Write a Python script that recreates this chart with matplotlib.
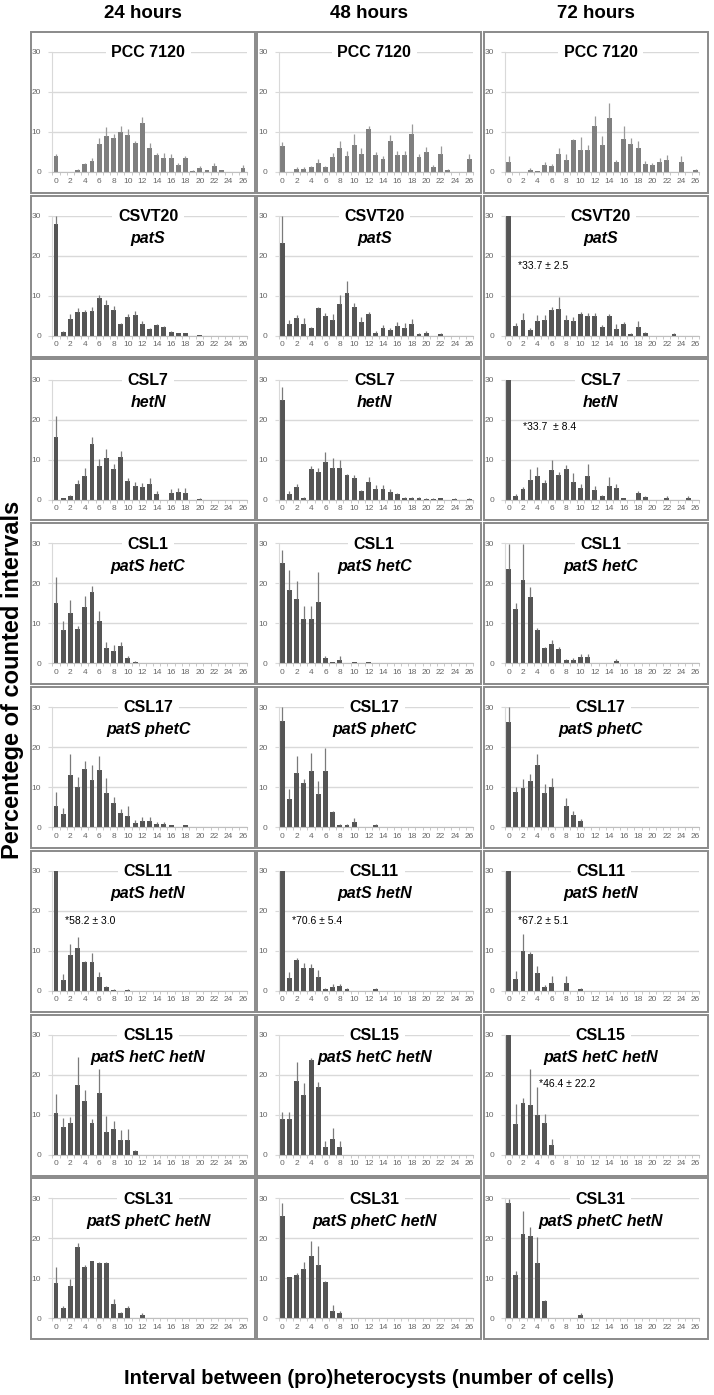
import numpy as np
import matplotlib
matplotlib.use('Agg')
import matplotlib.pyplot as plt
from matplotlib.patches import Rectangle

plt.rcParams['font.family'] = ['Liberation Sans', 'DejaVu Sans']

N = 27
intervals = np.arange(N)


def pad(v):
    # trailing intervals with no counts
    return list(v) + [0] * (N - len(v))


hours = ['24 hours', '48 hours', '72 hours']
strains = ['PCC 7120', 'CSVT20', 'CSL7', 'CSL1', 'CSL17', 'CSL11', 'CSL15', 'CSL31']
genotypes = ['', 'patS', 'hetN', 'patS hetC', 'patS phetC', 'patS hetN',
             'patS hetC hetN', 'patS phetC hetN']

# PCC 7120
pcc_24 = pad([4.0, 0.1, 0.1, 0.5, 2.0, 2.7, 7.0, 8.9, 8.6, 10.0, 9.3, 7.3, 12.3, 6.1, 4.2, 3.5, 3.5, 1.8, 3.5, 0.3, 1.0, 0.4, 1.5, 0.4, 0, 0, 0.9])
pcc_24_err = pad([0.5, 0, 0, 0.2, 0.3, 0.7, 1.5, 2.3, 1.0, 1.5, 1.5, 0.5, 1.4, 1.2, 0.5, 1.2, 1.0, 0.5, 0.4, 0.2, 0.5, 0.2, 0.8, 0.2, 0, 0, 0.8])
pcc_48 = pad([6.5, 0, 0.8, 0.8, 1.2, 2.2, 1.2, 3.8, 6.1, 4.1, 6.8, 4.5, 10.7, 4.2, 3.3, 7.7, 4.3, 4.3, 9.5, 3.8, 5.0, 1.3, 4.4, 0.5, 0.1, 0, 3.3])
pcc_48_err = pad([1.0, 0, 0.4, 0.4, 0.4, 1.0, 0.3, 0.9, 1.6, 1.2, 2.8, 1.5, 0.8, 0.9, 0.6, 1.5, 0.9, 0.9, 2.6, 0.6, 1.2, 0.5, 2.2, 0.3, 0, 0, 1.2])
pcc_72 = pad([2.5, 0, 0, 0.6, 0.3, 1.8, 1.5, 4.6, 3.0, 7.9, 5.6, 5.4, 11.5, 6.8, 13.4, 2.6, 8.3, 6.9, 6.1, 1.9, 1.7, 2.6, 2.9, 0.1, 2.5, 0, 0.5])
pcc_72_err = pad([1.6, 0, 0, 0.3, 0, 0.7, 0.6, 1.4, 1.6, 0.3, 3.1, 1.4, 2.4, 2.3, 3.9, 0.5, 3.3, 1.6, 1.6, 0.8, 0.5, 0.8, 1.3, 0, 1.6, 0, 0.3])

# CSVT20 patS
csvt20_24 = pad([28.0, 1.0, 4.2, 5.9, 5.9, 6.2, 9.5, 7.7, 6.5, 3.0, 4.8, 5.3, 3.0, 1.6, 2.6, 2.1, 1.0, 0.6, 0.6, 0, 0.1])
csvt20_24_err = pad([2.0, 0.2, 1.2, 1.0, 0.5, 1.0, 0.7, 1.3, 1.0, 0.3, 0.7, 1.0, 0.6, 0.4, 0.3, 0.3, 0.3, 0.2, 0.2, 0, 0])
csvt20_48 = pad([23.3, 3.0, 4.5, 3.0, 2.0, 7.0, 5.0, 4.0, 8.0, 10.8, 7.2, 3.4, 5.4, 0.8, 2.0, 1.5, 2.4, 2.0, 3.0, 0.5, 0.8, 0, 0.5])
csvt20_48_err = pad([6.7, 1.0, 0.6, 1.5, 0.3, 0.3, 0.8, 1.5, 2.2, 2.8, 1.0, 1.2, 0.5, 0.3, 0.8, 0.4, 1.1, 1.3, 1.3, 0.2, 0.3, 0, 0.2])
csvt20_72 = pad([33.7, 2.4, 4.0, 1.5, 3.7, 4.0, 6.4, 6.6, 4.0, 3.8, 5.5, 5.0, 5.0, 2.2, 4.9, 1.8, 3.0, 0.5, 2.1, 0.7, 0, 0, 0, 0.4])
csvt20_72_err = pad([2.5, 0.7, 1.8, 0.5, 1.5, 1.3, 0.9, 3.2, 1.2, 0.9, 0.5, 0.6, 0.6, 0.4, 0.5, 1.2, 0.5, 0.2, 1.6, 0.2, 0, 0, 0, 0.2])

# CSL7 hetN
csl7_24 = pad([15.6, 0.3, 0.8, 4.0, 6.0, 13.8, 8.3, 10.4, 7.7, 10.6, 4.6, 3.3, 3.1, 4.0, 1.5, 0, 1.6, 1.9, 1.7, 0, 0.2])
csl7_24_err = pad([5.4, 0.1, 0.3, 0.8, 1.8, 1.9, 1.8, 2.2, 1.3, 1.6, 0.7, 1.0, 1.0, 1.3, 0.7, 0, 1.0, 1.1, 1.1, 0, 0.1])
csl7_48 = pad([25.0, 1.3, 3.2, 0.5, 7.7, 6.9, 9.5, 8.0, 8.0, 6.2, 5.3, 2.2, 4.4, 2.7, 2.7, 2.0, 1.3, 0.5, 0.4, 0.5, 0.2, 0.2, 0.3, 0, 0.2, 0, 0.2])
csl7_48_err = pad([3.2, 0.9, 0.8, 0.1, 0.7, 1.1, 2.5, 2.3, 1.8, 0.3, 0.8, 0.3, 1.2, 1.0, 0.9, 0.6, 0.4, 0.2, 0.2, 0.2, 0.1, 0.1, 0.2, 0, 0.1, 0, 0.1])
csl7_72 = pad([33.7, 1.0, 2.6, 4.8, 5.8, 4.1, 7.5, 6.2, 7.7, 4.5, 3.0, 6.0, 2.5, 0.8, 3.3, 2.8, 0.4, 0, 1.6, 0.6, 0, 0, 0.5, 0, 0, 0.5, 0])
csl7_72_err = pad([8.4, 0.3, 0.6, 2.8, 2.3, 0.8, 2.3, 0.8, 0.9, 2.1, 1.0, 2.8, 1.0, 0.3, 2.3, 1.0, 0.1, 0, 0.5, 0.3, 0, 0, 0.3, 0, 0, 0.3, 0])

# CSL1 patS hetC
csl1_24 = pad([15.1, 8.4, 12.6, 8.6, 14.0, 17.8, 10.5, 3.7, 3.1, 4.3, 1.2, 0.4])
csl1_24_err = pad([6.5, 2.2, 3.3, 0.6, 2.7, 1.4, 2.6, 1.5, 1.5, 1.1, 0.5, 0.1])
csl1_48 = pad([25.0, 18.4, 16.0, 11.0, 11.0, 15.2, 1.3, 0.3, 0.9, 0, 0.3, 0, 0.3])
csl1_48_err = pad([3.3, 5.0, 4.6, 3.4, 3.4, 7.5, 0.6, 0.1, 0.8, 0, 0.1, 0, 0.1])
csl1_72 = pad([23.6, 13.5, 20.8, 16.5, 8.2, 3.7, 4.8, 3.5, 0.8, 0.9, 1.5, 1.5, 0, 0, 0, 0.6])
csl1_72_err = pad([6.1, 1.5, 9.0, 2.5, 0.7, 0.4, 1.0, 0.6, 0.3, 0.3, 0.9, 0.9, 0, 0, 0, 0.4])

# CSL17 patS phetC
csl17_24 = pad([5.3, 3.3, 13.0, 10.0, 14.5, 11.7, 14.3, 8.4, 6.0, 3.5, 2.8, 1.0, 1.4, 1.6, 0.8, 0.8, 0.4, 0, 0.4])
csl17_24_err = pad([3.4, 1.4, 5.2, 2.5, 2.1, 3.8, 3.5, 3.8, 1.6, 1.1, 2.4, 0.8, 1.0, 0.8, 0.5, 0.5, 0.2, 0, 0.2])
csl17_48 = pad([26.5, 6.9, 13.4, 11.1, 13.9, 8.2, 13.9, 3.8, 0.6, 0.6, 1.2, 0, 0, 0.5])
csl17_48_err = pad([3.5, 2.6, 4.4, 1.0, 4.5, 3.3, 5.8, 0.3, 0.2, 0.2, 1.0, 0, 0, 0.2])
csl17_72 = pad([26.3, 8.8, 9.7, 11.5, 15.6, 8.5, 10.0, 0, 5.3, 3.0, 1.5])
csl17_72_err = pad([3.7, 1.3, 2.3, 1.8, 2.6, 2.3, 2.2, 0, 2.0, 1.0, 0.5])

# CSL11 patS hetN
csl11_24 = pad([58.2, 2.8, 9.0, 10.7, 7.2, 7.2, 3.4, 1.0, 0.3, 0, 0.3])
csl11_24_err = pad([3.0, 1.3, 2.7, 2.8, 0.3, 2.3, 1.2, 0.3, 0.1, 0, 0.2])
csl11_48 = pad([70.6, 3.3, 7.6, 5.7, 5.7, 3.5, 0.5, 1.0, 1.2, 0.5, 0, 0, 0, 0.5])
csl11_48_err = pad([5.4, 1.3, 0.6, 1.3, 1.0, 1.8, 0.1, 0.6, 0.5, 0.2, 0, 0, 0, 0.3])
csl11_72 = pad([67.2, 3.0, 10.0, 9.3, 4.5, 1.0, 2.0, 0, 2.0, 0, 0.5])
csl11_72_err = pad([5.1, 2.0, 4.2, 0.4, 1.8, 0.5, 1.6, 0, 1.6, 0, 0.2])

# CSL15 patS hetC hetN
csl15_24 = pad([10.4, 7.0, 8.0, 17.5, 13.3, 8.0, 15.5, 5.6, 6.4, 3.6, 3.6, 0.9])
csl15_24_err = pad([4.8, 2.2, 1.5, 7.0, 2.9, 0.8, 5.8, 4.0, 2.0, 2.6, 2.7, 0.3])
csl15_48 = pad([9.0, 9.0, 18.3, 15.0, 23.7, 17.0, 2.0, 4.0, 2.0])
csl15_48_err = pad([1.7, 1.7, 4.8, 2.8, 0.5, 1.2, 1.3, 2.6, 1.3])
csl15_72 = pad([46.4, 7.6, 13.0, 12.5, 10.0, 8.0, 2.5])
csl15_72_err = pad([22.2, 5.0, 1.2, 8.8, 7.0, 2.2, 1.5])

# CSL31 patS phetC hetN
csl31_24 = pad([8.9, 2.5, 8.0, 17.8, 12.8, 14.2, 13.8, 13.8, 3.5, 1.2, 2.5, 0, 0.8])
csl31_24_err = pad([3.9, 0.6, 1.8, 1.1, 0.6, 0.2, 0.2, 0.2, 1.2, 0.3, 0.6, 0, 0.4])
csl31_48 = pad([25.6, 10.2, 10.8, 12.2, 15.5, 13.4, 9.0, 1.9, 1.3])
csl31_48_err = pad([3.1, 0.2, 0.6, 1.8, 3.9, 4.7, 0.4, 1.5, 0.6])
csl31_72 = pad([28.7, 10.8, 21.0, 20.6, 13.9, 4.2, 0, 0, 0, 0, 0.8])
csl31_72_err = pad([1.0, 1.0, 5.8, 2.2, 6.3, 0.4, 0, 0, 0, 0, 0.4])

# notes for the clipped 0-interval bars: (row, col, text, x, y)
notes = [
    (1, 2, '*33.7 \u00b1 2.5', 1.3, 17.4),
    (2, 2, '*33.7  \u00b1 8.4', 2.0, 18.2),
    (5, 0, '*58.2 \u00b1 3.0', 1.3, 17.4),
    (5, 1, '*70.6 \u00b1 5.4', 1.3, 17.4),
    (5, 2, '*67.2 \u00b1 5.1', 1.3, 17.4),
    (6, 2, '*46.4 \u00b1 22.2', 4.2, 17.7),
]

panels = [
    [(pcc_24, pcc_24_err), (pcc_48, pcc_48_err), (pcc_72, pcc_72_err)],
    [(csvt20_24, csvt20_24_err), (csvt20_48, csvt20_48_err), (csvt20_72, csvt20_72_err)],
    [(csl7_24, csl7_24_err), (csl7_48, csl7_48_err), (csl7_72, csl7_72_err)],
    [(csl1_24, csl1_24_err), (csl1_48, csl1_48_err), (csl1_72, csl1_72_err)],
    [(csl17_24, csl17_24_err), (csl17_48, csl17_48_err), (csl17_72, csl17_72_err)],
    [(csl11_24, csl11_24_err), (csl11_48, csl11_48_err), (csl11_72, csl11_72_err)],
    [(csl15_24, csl15_24_err), (csl15_48, csl15_48_err), (csl15_72, csl15_72_err)],
    [(csl31_24, csl31_24_err), (csl31_48, csl31_48_err), (csl31_72, csl31_72_err)],
]

W, H = 714, 1395
fig = plt.figure(figsize=(W / 100, H / 100), dpi=100)


def px_rect(x, y, w, h):
    # pixel box (top-left origin) -> figure fraction
    return [x / W, 1 - (y + h) / H, w / W, h / H]


box_x0, box_y0 = 31, 32
col_step, row_step = 226.3, 163.75
box_w, box_h = 224, 161

for r in range(8):
    for c in range(3):
        bx = box_x0 + c * col_step
        by = box_y0 + r * row_step
        fig.patches.append(Rectangle((bx / W, 1 - (by + box_h) / H), box_w / W, box_h / H,
                                     transform=fig.transFigure, fill=False,
                                     edgecolor='#8a8a8a', lw=1.4))
        ax = fig.add_axes(px_rect(bx + 21.4, by + 20, 194.2, 120))
        vals, errs = panels[r][c]
        vals = np.array(vals, dtype=float)
        errs = np.array(errs, dtype=float)
        bar_col = '#7f7f7f' if r == 0 else '#555555'
        err_col = '#9a9a9a' if r == 0 else '#7a7a7a'
        ax.bar(intervals, vals, width=0.68, color=bar_col, zorder=2)
        m = errs > 0
        ax.errorbar(intervals[m], vals[m], yerr=[np.zeros(m.sum()), errs[m]],
                    fmt='none', ecolor=err_col, elinewidth=0.9, capsize=0, zorder=2.5)

        ax.set_xlim(-0.5, 26.5)
        ax.set_ylim(0, 30)
        ax.set_yticks([0, 10, 20, 30])
        ax.set_xticks(np.arange(0, 27, 2))
        ax.set_xticks(np.arange(-0.5, 27, 1), minor=True)
        ax.grid(axis='y', color='#d9d9d9', lw=1.0)
        ax.set_axisbelow(True)
        for s in ['top', 'right']:
            ax.spines[s].set_visible(False)
        ax.spines['left'].set_color('#d9d9d9')
        ax.spines['bottom'].set_color('#bfbfbf')
        ax.tick_params(axis='y', length=3, color='#d9d9d9', pad=5,
                       labelsize=6, labelcolor='#666666')
        ax.tick_params(axis='x', which='major', length=0, pad=4,
                       labelsize=6, labelcolor='#666666')
        ax.tick_params(axis='x', which='minor', length=2.5, color='#bfbfbf')

        ax.text(12.8, 29.8, strains[r], ha='center', va='center', fontsize=11.5,
                fontweight='bold', zorder=1.5,
                bbox=dict(fc='white', ec='none', pad=4))
        if genotypes[r]:
            ax.text(12.8, 24.3, genotypes[r], ha='center', va='center', fontsize=11.5,
                    fontweight='bold', style='italic', zorder=1.5)

        for nr, nc, txt, nx, ny in notes:
            if nr == r and nc == c:
                ax.text(nx, ny, txt, ha='left', va='center', fontsize=7.5, zorder=3)

for c in range(3):
    cx = box_x0 + c * col_step + box_w / 2
    fig.text(cx / W, 1 - 13 / H, hours[c], ha='center', va='center',
             fontsize=13.5, fontweight='bold')

fig.text(13 / W, 1 - 680 / H, 'Percentege of counted intervals', rotation=90,
         ha='center', va='center', fontsize=17, fontweight='bold')
fig.text(369 / W, 1 - 1379 / H, 'Interval between (pro)heterocysts (number of cells)',
         ha='center', va='center', fontsize=14.5, fontweight='bold')

fig.savefig('out.png', dpi=100)
